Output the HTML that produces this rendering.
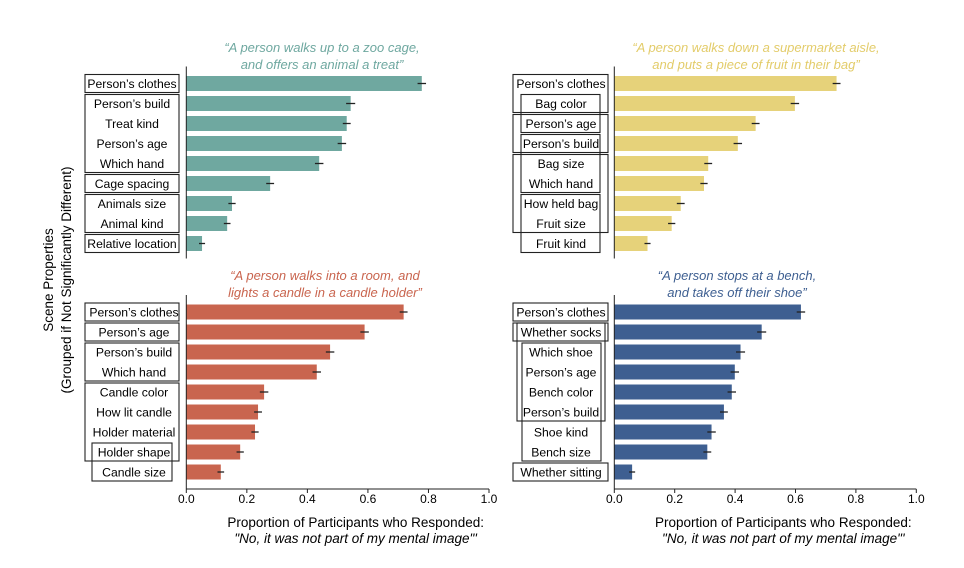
<!DOCTYPE html>
<html><head><meta charset="utf-8"><style>
html,body{margin:0;padding:0;background:#fff;}
svg{display:block;font-family:"Liberation Sans",sans-serif;}
</style></head><body>
<svg id="chart" width="964" height="568" viewBox="0 0 964 568"></svg>
<script>
const labelsTL=["Person’s clothes","Person’s build","Treat kind","Person’s age","Which hand","Cage spacing","Animals size","Animal kind","Relative location"];
const valuesTL=[0.778,0.543,0.53,0.514,0.439,0.277,0.151,0.135,0.052];
const labelsTR=["Person’s clothes","Bag color","Person’s age","Person’s build","Bag size","Which hand","How held bag","Fruit size","Fruit kind"];
const valuesTR=[0.736,0.598,0.468,0.409,0.311,0.297,0.22,0.19,0.11];
const labelsBL=["Person’s clothes","Person’s age","Person’s build","Which hand","Candle color","How lit candle","Holder material","Holder shape","Candle size"];
const valuesBL=[0.718,0.589,0.475,0.431,0.257,0.237,0.227,0.178,0.114];
const labelsBR=["Person’s clothes","Whether socks","Which shoe","Person’s age","Bench color","Person’s build","Shoe kind","Bench size","Whether sitting"];
const valuesBR=[0.618,0.488,0.418,0.399,0.389,0.363,0.322,0.308,0.059];
const errTL=[0.014,0.015,0.013,0.014,0.014,0.013,0.012,0.011,0.01];
const errTR=[0.013,0.014,0.013,0.014,0.013,0.012,0.013,0.012,0.01];
const errBL=[0.013,0.014,0.014,0.014,0.014,0.013,0.012,0.012,0.011];
const errBR=[0.014,0.015,0.015,0.014,0.014,0.013,0.014,0.013,0.01];
const ticks=["0.0","0.2","0.4","0.6","0.8","1.0"];
const NS="http://www.w3.org/2000/svg";
const svg=document.getElementById('chart');
function mk(tag,attrs,parent){const e=document.createElementNS(NS,tag);for(const k in attrs)e.setAttribute(k,attrs[k]);(parent||svg).appendChild(e);return e;}
function panel(opt){
  const g=mk('g',{});
  
  
  const x=v=>opt.x0+v*opt.scale;
  const y=i=>opt.y0+i*20;
  opt.values.forEach((v,i)=>{
    const r=mk('rect',{x:x(0),y:y(i)-7.5,width:x(v)-x(0),height:15,fill:opt.color},g);
    
    
    const e=mk('line',{x1:x(v-opt.err[i]),x2:x(v+opt.err[i]),y1:y(i),y2:y(i),stroke:'#222','stroke-width':1.3},g);
    
    
    const t=mk('text',{x:opt.lx,y:y(i)+4.5,'font-size':12.2,'text-anchor':'middle',fill:'#000'},g);
    t.textContent=opt.labels[i];
    
    
  });
  opt.boxes.forEach(b=>{
    const r=mk('rect',{x:b[0],y:y(b[2])-9,width:b[1]-b[0],height:y(b[3])-y(b[2])+18,fill:'none',stroke:'#222','stroke-width':1.1},g);
    
    
  });
  const ax=mk('line',{x1:x(0),x2:x(0),y1:opt.y0-17,y2:opt.axisY||y(8)+15,stroke:'#222','stroke-width':1},g);
  
  
  opt.title.forEach((s,k)=>{
    const t=mk('text',{x:opt.tx,y:opt.ty+k*17,'font-size':13,'font-style':'italic','text-anchor':'middle',fill:opt.tcolor},g);
    t.textContent=s;
    
    
  });
  if(opt.axisY){
    const xl=mk('line',{x1:x(0),x2:x(1),y1:opt.axisY,y2:opt.axisY,stroke:'#222','stroke-width':1},g);
    
    
    ticks.forEach(tk=>{
      const v=parseFloat(tk);
      mk('line',{x1:x(v),x2:x(v),y1:opt.axisY,y2:opt.axisY+4,stroke:'#222'},g);
      const t=mk('text',{x:x(v),y:opt.axisY+14,'font-size':12,'text-anchor':'middle'},g);
      t.textContent=tk;
      
      
    });
    const a=mk('text',{x:(x(0)+x(1))/2+18,y:opt.axisY+38,'font-size':13.5,'text-anchor':'middle'},g);
    a.textContent='Proportion of Participants who Responded:';
    
    
    const b=mk('text',{x:(x(0)+x(1))/2+18,y:opt.axisY+54,'font-size':13.5,'font-style':'italic','text-anchor':'middle'},g);
    b.textContent='"No, it was not part of my mental image"\'';
    
    
  }
}
panel({name:'panel-zoo',labels:labelsTL,values:valuesTL,err:errTL,x0:186.3,scale:302.7,y0:83.5,lx:132,color:'#6fa8a0',tcolor:'#6fa8a0',
  title:['“A person walks up to a zoo cage,','and offers an animal a treat”'],tx:322,ty:52,
  boxes:[[85,179,0,0],[85,179,1,4],[85,179,5,5],[85,179,6,7],[85,179,8,8]]});
panel({name:'panel-supermarket',labels:labelsTR,values:valuesTR,err:errTR,x0:614.3,scale:302,y0:83.5,lx:561,color:'#e6d27a',tcolor:'#e3cc6a',
  title:['“A person walks down a supermarket aisle,','and puts a piece of fruit in their bag”'],tx:756,ty:52,
  boxes:[[513,608,0,1],[513,608,2,3],[513,608,4,7],[521,600,1,2],[521,600,3,5],[521,600,6,8]]});
panel({name:'panel-candle',labels:labelsBL,values:valuesBL,err:errBL,x0:186.3,scale:302.7,y0:312,lx:134,color:'#c9654f',tcolor:'#c9654f',axisY:489,
  title:['“A person walks into a room, and','lights a candle in a candle holder”'],tx:325,ty:280,
  boxes:[[85,179,0,0],[85,179,1,1],[85,179,2,3],[85,179,4,7],[92,172,7,8]]});
panel({name:'panel-bench',labels:labelsBR,values:valuesBR,err:errBR,x0:614.3,scale:302,y0:312,lx:561,color:'#3e5f91',tcolor:'#3e5f91',axisY:489,
  title:['“A person stops at a bench,','and takes off their shoe”'],tx:737,ty:280,
  boxes:[[513,608,0,0],[513,608,1,1],[517,605,1,5],[522,601,2,7],[513,608,8,8]]});
const yt=mk('text',{x:0,y:0,'font-size':13.5,'text-anchor':'middle',transform:'translate(53,280) rotate(-90)'});
yt.textContent='Scene Properties';


const yt2=mk('text',{x:0,y:0,'font-size':13.5,'text-anchor':'middle',transform:'translate(71,280) rotate(-90)'});
yt2.textContent='(Grouped if Not Significantly Different)';


</script>
</body></html>
